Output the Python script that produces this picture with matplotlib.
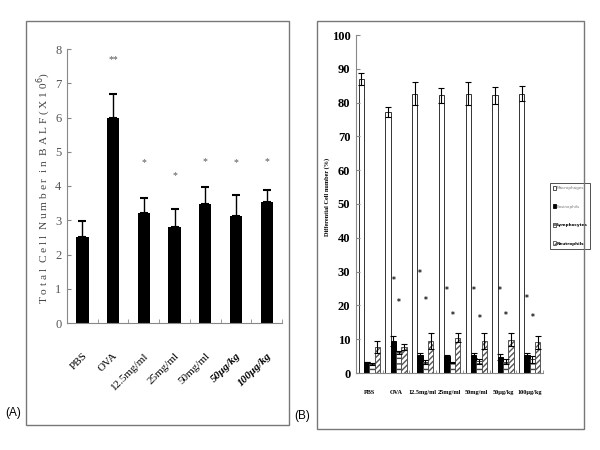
import numpy as np
import matplotlib
matplotlib.use("Agg")
import matplotlib.pyplot as plt
from matplotlib.patches import Rectangle, Patch

# panel A data
groups_a = ["PBS", "OVA", "12.5mg/ml", "25mg/ml", "50mg/ml", "50\u03bcg/kg", "100\u03bcg/kg"]
total_cells = [2.52, 5.98, 3.22, 2.79, 3.48, 3.13, 3.53]
total_err = [0.47, 0.72, 0.42, 0.55, 0.48, 0.62, 0.36]
stars_a = ["", "**", "*", "*", "*", "*", "*"]
star_y_a = [0, 7.68, 4.68, 4.29, 4.71, 4.68, 4.71]

# panel B data
groups_b = ["PBS", "OVA", "12.5mg/ml", "25mg/ml", "50mg/ml", "50\u03bcg/kg", "100\u03bcg/kg"]
macro = [86.9, 77.1, 82.6, 82.2, 82.6, 82.2, 82.6]
macro_err = [1.8, 1.5, 3.4, 2.2, 3.4, 2.5, 2.2]
eos = [3.4, 9.5, 5.2, 5.0, 5.2, 4.7, 5.2]
eos_err = [0.0, 1.4, 0.7, 0.3, 0.7, 0.9, 0.7]
lymph = [2.8, 6.1, 3.3, 3.2, 3.5, 3.3, 4.0]
lymph_err = [0.3, 0.5, 0.6, 0.2, 0.7, 0.7, 0.9]
neutro = [7.7, 7.7, 9.4, 10.5, 9.4, 9.9, 9.1]
neutro_err = [1.8, 0.8, 2.3, 1.4, 2.3, 1.8, 1.9]
mark_eos = [None, 27.5, 29.5, 24.5, 24.5, 24.5, 22.0]
mark_lymph = [None, 21.0, 21.5, 17.0, 16.0, 17.0, 16.5]

W, H = 600, 450
fig = plt.figure(figsize=(6, 4.5), dpi=100)


def fx(px):
    return px / W


def fy(py):
    return 1 - py / H


# frames round the two panels
for x0, x1, y0, y1 in [(26, 289, 21, 425), (317, 584, 21, 429)]:
    fig.add_artist(Rectangle((fx(x0), fy(y1)), fx(x1 - x0), fy(y0) - fy(y1),
                             transform=fig.transFigure, fill=False,
                             edgecolor="#777777", lw=1.0))
fig.text(fx(13), fy(413), "(A)", ha="center", va="center", fontsize=8.5,
         family="Liberation Sans")
fig.text(fx(302), fy(416), "(B)", ha="center", va="center", fontsize=8.5,
         family="Liberation Sans")

# ---- panel A ----
axA = fig.add_axes([fx(67), fy(323), fx(282 - 67), fy(49) - fy(323)])
xa = np.arange(len(groups_a))
axA.bar(xa, total_cells, width=0.4, color="black")
axA.errorbar(xa, total_cells, yerr=[np.zeros(len(xa)), total_err], fmt="none",
             ecolor="black", elinewidth=1, capsize=3, capthick=1.5)
for x, s, y in zip(xa, stars_a, star_y_a):
    if s:
        axA.text(x, y, s, ha="center", va="center", fontsize=7, color="#555555",
                 family="Liberation Serif")
axA.set_xlim(-0.5, 6.5)
axA.set_ylim(0, 8)
axA.set_yticks(range(0, 9))
axA.set_xticks(xa)
axA.set_xticks(np.arange(0.5, 7, 1), minor=True)
ticklabs = axA.set_xticklabels(groups_a, rotation=45, ha="right",
                               rotation_mode="anchor", fontsize=8,
                               family="Liberation Serif")
for t in ticklabs[5:]:
    t.set_style("italic")
    t.set_weight("bold")
axA.tick_params(axis="x", which="major", length=0, pad=20)
axA.tick_params(axis="x", which="minor", length=3, direction="in", color="#888888")
axA.tick_params(axis="y", direction="in", length=3, color="#888888",
                labelsize=9, labelcolor="#555555", pad=4)
for t in axA.get_yticklabels():
    t.set_family("Liberation Serif")
for s in ["top", "right"]:
    axA.spines[s].set_visible(False)
for s in ["left", "bottom"]:
    axA.spines[s].set_color("#888888")
fig.text(fx(44), fy(188),
         "T o t a l  C e l l  N u m b e r  i n  B A L F ( X 1 0$^{6}$)",
         rotation=90, ha="center", va="center", fontsize=8.2, color="#444444",
         family="Liberation Serif")

# ---- panel B ----
axB = fig.add_axes([fx(356), fy(373), fx(543 - 356), fy(35) - fy(373)])
xb = np.arange(len(groups_b))
bw = 0.2
ekw = dict(fmt="none", ecolor="black", elinewidth=0.8, capsize=2, capthick=0.8)
axB.bar(xb - 1.5 * bw, macro, width=bw, color="white", edgecolor="#333333", lw=0.7)
axB.errorbar(xb - 1.5 * bw, macro, yerr=macro_err, **ekw)
axB.bar(xb - 0.5 * bw, eos, width=bw, color="black", edgecolor="black", lw=0.7)
axB.errorbar(xb - 0.5 * bw, eos, yerr=eos_err, **ekw)
axB.bar(xb + 0.5 * bw, lymph, width=bw, color="white", edgecolor="#444444",
        hatch="---", lw=0.7)
axB.errorbar(xb + 0.5 * bw, lymph, yerr=lymph_err, **ekw)
axB.bar(xb + 1.5 * bw, neutro, width=bw, color="white", edgecolor="#555555",
        hatch="//////", lw=0.7)
axB.errorbar(xb + 1.5 * bw, neutro, yerr=neutro_err, **ekw)
for x, m1, m2 in zip(xb, mark_eos, mark_lymph):
    if m1 is not None:
        axB.text(x - 0.1, m1, "*", ha="center", va="center", fontsize=5.5,
                 weight="bold", color="#111111")
        axB.text(x + 0.12, m2, "*", ha="center", va="center", fontsize=5.5,
                 weight="bold", color="#111111")
axB.set_xlim(-0.5, 6.5)
axB.set_ylim(0, 100)
axB.set_yticks(range(0, 101, 10))
axB.set_xticks(xb)
axB.set_xticks(np.arange(0.5, 7, 1), minor=True)
axB.set_xticklabels(groups_b, fontsize=4.5, weight="bold", family="Liberation Serif")
axB.tick_params(axis="x", which="major", length=0, pad=12)
axB.tick_params(axis="x", which="minor", length=2, direction="in", color="#888888")
axB.tick_params(axis="y", direction="in", length=3, color="#888888",
                labelsize=9, pad=4)
for t in axB.get_yticklabels():
    t.set_family("Liberation Serif")
    t.set_weight("bold")
for s in ["top", "right"]:
    axB.spines[s].set_visible(False)
for s in ["left", "bottom"]:
    axB.spines[s].set_color("#888888")
fig.text(fx(327), fy(197), "Differential Cell number (%)", rotation=90,
         ha="center", va="center", fontsize=4.5, weight="bold",
         family="Liberation Serif")

handles = [
    Patch(facecolor="white", edgecolor="#333333", lw=0.6, label="Macrophages"),
    Patch(facecolor="black", edgecolor="black", lw=0.6, label="Eosinophils"),
    Patch(facecolor="white", edgecolor="#444444", hatch="---", lw=0.6, label="Lymphocytes"),
    Patch(facecolor="white", edgecolor="#555555", hatch="//////", lw=0.6, label="Neutrophils"),
]
leg = axB.legend(handles=handles, loc="upper left",
                 bbox_to_anchor=(fx(550), fy(183)), bbox_transform=fig.transFigure,
                 fontsize=3, handlelength=0.7, handleheight=1.0, handletextpad=0.2,
                 labelspacing=3.4, borderpad=0.7, borderaxespad=0,
                 frameon=True, fancybox=False, edgecolor="black")
leg.get_frame().set_linewidth(0.6)
for t in leg.get_texts()[:2]:
    t.set_color("#777777")
for t in leg.get_texts()[2:]:
    t.set_weight("bold")

fig.savefig("out.png", dpi=100)
